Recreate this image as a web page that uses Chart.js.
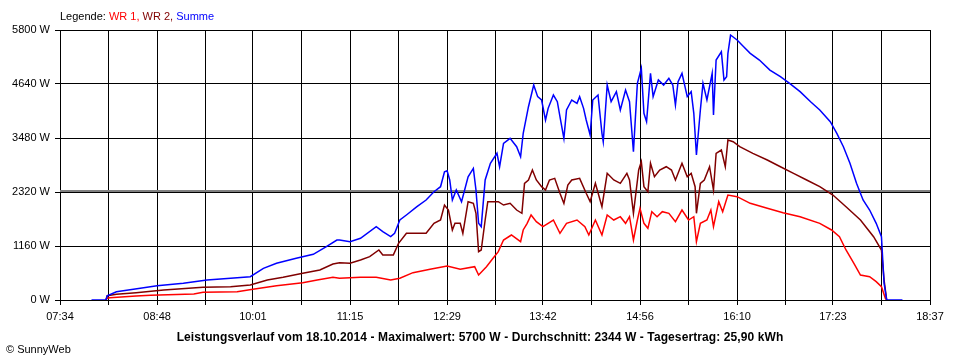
<!DOCTYPE html>
<html>
<head>
<meta charset="utf-8">
<script src="https://cdn.jsdelivr.net/npm/chart.js@4.4.1/dist/chart.umd.min.js"></script>
<style>
    body { margin: 0; background: #fff; font-family: "Liberation Sans", Arial, sans-serif; font-size: 11px; color: #000; }
    #wrap { position: relative; width: 960px; height: 360px; }
    #powerChart { position: absolute; left: 0; top: 0; }
    #legend { position: absolute; left: 60px; top: 10px; white-space: nowrap; }
    #footer { position: absolute; left: 0; top: 330px; width: 960px; text-align: center; font-weight: bold; font-size: 12px; letter-spacing: 0.1px; white-space: nowrap; }
    #copy { position: absolute; left: 6px; top: 343px; }
</style>
</head>
<body>
<div id="wrap">
    <canvas id="powerChart" width="960" height="360"></canvas>
    <div id="legend">Legende: <span style="color:#ff0000">WR 1,</span> <span style="color:#800000">WR 2,</span> <span style="color:#0000ff">Summe</span></div>
    <div id="footer">Leistungsverlauf vom 18.10.2014 - Maximalwert: 5700 W - Durchschnitt: 2344 W - Tagesertrag: 25,90 kWh</div>
    <div id="copy">&copy; SunnyWeb</div>
</div>
<script>
// x axis labels (every second grid line carries a label)
const tickLabels = ['07:34', '08:48', '10:01', '11:15', '12:29', '13:42', '14:56', '16:10', '17:23', '18:37'];
const yTicks = [0, 1160, 2320, 3480, 4640, 5800];
const averageW = 2344;

// Summe (blue)
const sumTimes = ['07:58', '08:09', '08:10', '08:17', '08:30', '08:48', '09:08', '09:26', '09:44', '09:59',
    '10:09', '10:19', '10:34', '10:47', '10:57', '11:05', '11:07', '11:15', '11:23', '11:35',
    '11:40', '11:46', '11:49', '11:53', '11:58', '12:06', '12:13', '12:19', '12:24', '12:27',
    '12:29', '12:31', '12:33', '12:36', '12:40', '12:45', '12:49', '12:51', '12:53', '12:55',
    '12:58', '13:02', '13:07', '13:09', '13:12', '13:17', '13:22', '13:25', '13:27', '13:31',
    '13:35', '13:38', '13:41', '13:44', '13:46', '13:50', '13:53', '13:55', '13:58', '14:00',
    '14:04', '14:08', '14:10', '14:13', '14:15', '14:18', '14:20', '14:24', '14:27', '14:28',
    '14:31', '14:34', '14:38', '14:41', '14:45', '14:48', '14:51', '14:54', '14:57', '14:59',
    '15:01', '15:04', '15:06', '15:10', '15:14', '15:18', '15:21', '15:23', '15:25', '15:28',
    '15:32', '15:35', '15:37', '15:39', '15:42', '15:44', '15:47', '15:51', '15:52', '15:54',
    '15:58', '16:00', '16:02', '16:03', '16:05', '16:10', '16:15', '16:20', '16:27', '16:35',
    '16:43', '16:50', '16:58', '17:06', '17:13', '17:21', '17:26', '17:31', '17:36', '17:41',
    '17:46', '17:51', '17:56', '18:00', '18:01', '18:02', '18:04', '18:16'];
const sumValues = [0, 0, 92, 178, 230, 307, 358, 430, 466, 501,
    680, 788, 895, 981, 1146, 1289, 1289, 1253, 1325, 1575,
    1468, 1360, 1432, 1718, 1826, 2004, 2148, 2326, 2434, 2756,
    2777, 2578, 2148, 2363, 2112, 2648, 2828, 2363, 1647, 1575,
    2578, 2936, 3151, 2863, 3365, 3472, 3293, 3078, 3580, 4152,
    4618, 4368, 4296, 3866, 4117, 4403, 4260, 3937, 3472, 4081,
    4296, 4225, 4368, 4117, 3866, 3544, 4296, 4403, 3580, 3400,
    4618, 4260, 4475, 4081, 4511, 4260, 3186, 4654, 4977, 4010,
    3830, 4869, 4368, 4726, 4618, 4762, 4618, 4189, 4690, 4869,
    4368, 4475, 4010, 3115, 4081, 4654, 4296, 4869, 3974, 5155,
    5333, 4726, 4797, 5299, 5692, 5585, 5441, 5299, 5155, 4940,
    4797, 4654, 4475, 4260, 4081, 3830, 3580, 3293, 2936, 2506,
    2148, 1933, 1647, 1360, 859, 359, 0, 0];

// WR 2 (dark red)
const wr2Times = ['08:09', '08:10', '08:17', '08:32', '08:53', '09:23', '09:44', '09:59', '10:12', '10:24',
    '10:39', '10:52', '11:02', '11:07', '11:15', '11:23', '11:30', '11:37', '11:40', '11:48',
    '11:52', '11:58', '12:06', '12:13', '12:19', '12:24', '12:27', '12:30', '12:33', '12:35',
    '12:39', '12:41', '12:45', '12:49', '12:51', '12:53', '12:55', '12:58', '13:00', '13:04',
    '13:08', '13:12', '13:17', '13:22', '13:26', '13:28', '13:31', '13:34', '13:37', '13:41',
    '13:44', '13:47', '13:51', '13:55', '13:58', '14:01', '14:04', '14:10', '14:15', '14:18',
    '14:22', '14:27', '14:31', '14:36', '14:41', '14:46', '14:48', '14:51', '14:55', '14:57',
    '14:59', '15:02', '15:04', '15:07', '15:11', '15:16', '15:20', '15:23', '15:28', '15:32',
    '15:35', '15:38', '15:39', '15:42', '15:45', '15:49', '15:52', '15:54', '15:58', '16:01',
    '16:03', '16:07', '16:12', '16:22', '16:33', '16:43', '16:53', '17:03', '17:13', '17:23',
    '17:33', '17:44', '17:54', '18:00', '18:02', '18:04'];
const wr2Values = [0, 92, 122, 157, 215, 272, 286, 322, 430, 487,
    573, 644, 773, 802, 788, 859, 931, 1074, 967, 967,
    1217, 1432, 1432, 1432, 1647, 1718, 2040, 1933, 1504, 1647,
    1647, 1432, 2112, 2077, 1862, 1038, 1074, 1718, 2112, 2112,
    2112, 2040, 2077, 1933, 1862, 2506, 2578, 2792, 2578, 2434,
    2363, 2578, 2613, 2292, 2077, 2470, 2578, 2613, 2292, 2112,
    2506, 2004, 2721, 2578, 2506, 2721, 2578, 1862, 2792, 2971,
    2434, 2326, 2936, 2648, 2792, 2863, 2792, 2578, 2936, 2648,
    2721, 2434, 1862, 2506, 2578, 2863, 2363, 3151, 3222, 2863,
    3437, 3400, 3293, 3151, 3007, 2863, 2721, 2578, 2434, 2255,
    2004, 1718, 1360, 1074, 430, 0];

// WR 1 (red)
const wr1Times = ['08:09', '08:10', '08:12', '08:32', '08:43', '09:16', '09:23', '09:49', '10:01', '10:19',
    '10:39', '10:50', '11:02', '11:07', '11:23', '11:35', '11:46', '11:53', '12:03', '12:16',
    '12:29', '12:39', '12:50', '12:53', '12:59', '13:04', '13:08', '13:12', '13:18', '13:25',
    '13:27', '13:30', '13:33', '13:37', '13:42', '13:46', '13:50', '13:55', '14:00', '14:08',
    '14:14', '14:17', '14:22', '14:27', '14:31', '14:36', '14:41', '14:45', '14:48', '14:51',
    '14:54', '14:56', '14:59', '15:02', '15:05', '15:09', '15:13', '15:18', '15:23', '15:28',
    '15:33', '15:37', '15:39', '15:42', '15:47', '15:50', '15:52', '15:56', '15:59', '16:03',
    '16:10', '16:20', '16:33', '16:45', '16:58', '17:13', '17:22', '17:28', '17:33', '17:39',
    '17:44', '17:51', '17:56', '18:00', '18:03', '18:04'];
const wr1Values = [0, 40, 50, 86, 100, 129, 165, 179, 229, 308,
    372, 430, 487, 466, 487, 487, 430, 466, 587, 659,
    730, 659, 716, 537, 716, 895, 1038, 1289, 1396, 1253,
    1504, 1647, 1826, 1682, 1575, 1647, 1718, 1432, 1647, 1718,
    1575, 1396, 1718, 1396, 1826, 1718, 1790, 1647, 1790, 1289,
    1718, 1969, 1647, 1540, 1897, 1790, 1897, 1862, 1682, 1933,
    1718, 1790, 1252, 1647, 1718, 1933, 1575, 2112, 1897, 2255,
    2219, 2077, 1969, 1876, 1790, 1647, 1504, 1360, 1074, 788,
    537, 501, 394, 286, 36, 0];

const toMinutes = t => {
    const [h, m] = t.split(':').map(Number);
    return h * 60 + m;
};
const toPoints = (times, values) => times.map((t, i) => ({ x: toMinutes(t), y: values[i] }));

const labelMinutes = tickLabels.map(toMinutes);
const gridMinutes = [];
labelMinutes.forEach((m, i) => {
    gridMinutes.push(m);
    if (i < labelMinutes.length - 1) gridMinutes.push((m + labelMinutes[i + 1]) / 2);
});
const xMin = labelMinutes[0];
const xMax = labelMinutes[labelMinutes.length - 1];

Chart.defaults.font.family = '"Liberation Sans", Arial, sans-serif';
Chart.defaults.font.size = 11;
Chart.defaults.color = '#000';

const lineStyle = {
    pointRadius: 0,
    borderWidth: 1.5,
    tension: 0,
    fill: false
};

new Chart(document.getElementById('powerChart'), {
    type: 'line',
    data: {
        datasets: [
            { label: 'Summe', data: toPoints(sumTimes, sumValues), borderColor: '#0000ff', order: 0, ...lineStyle },
            { label: 'WR 2', data: toPoints(wr2Times, wr2Values), borderColor: '#800000', order: 1, ...lineStyle },
            { label: 'WR 1', data: toPoints(wr1Times, wr1Values), borderColor: '#ff0000', order: 2, ...lineStyle },
            {
                label: 'Durchschnitt',
                data: [{ x: xMin, y: averageW }, { x: xMax, y: averageW }],
                borderColor: '#808080',
                order: 3,
                ...lineStyle,
                borderWidth: 2
            }
        ]
    },
    options: {
        responsive: false,
        animation: false,
        layout: {
            padding: { top: 30, right: 30, left: 0, bottom: 0 }
        },
        plugins: {
            legend: { display: false },
            tooltip: { enabled: false }
        },
        scales: {
            x: {
                type: 'linear',
                min: xMin,
                max: xMax,
                afterBuildTicks: scale => {
                    scale.ticks = gridMinutes.map(v => ({ value: v }));
                },
                afterFit: scale => {
                    scale.height = 60;
                    scale.paddingLeft = 0;
                    scale.paddingRight = 0;
                },
                ticks: {
                    autoSkip: false,
                    maxRotation: 0,
                    padding: 5,
                    callback: (v, i) => (i % 2 === 0 ? tickLabels[i / 2] : '')
                },
                grid: {
                    color: '#000',
                    lineWidth: 1,
                    tickLength: 5
                },
                border: { color: '#000', width: 1 }
            },
            y: {
                min: 0,
                max: 5800,
                afterBuildTicks: scale => {
                    scale.ticks = yTicks.map(v => ({ value: v }));
                },
                afterFit: scale => {
                    scale.width = 60;
                    scale.paddingTop = 0;
                    scale.paddingBottom = 0;
                },
                ticks: {
                    padding: 5,
                    callback: v => v + ' W'
                },
                grid: {
                    color: '#000',
                    lineWidth: 1,
                    tickLength: 5
                },
                border: { color: '#000', width: 1 }
            }
        }
    }
});
</script>
</body>
</html>
